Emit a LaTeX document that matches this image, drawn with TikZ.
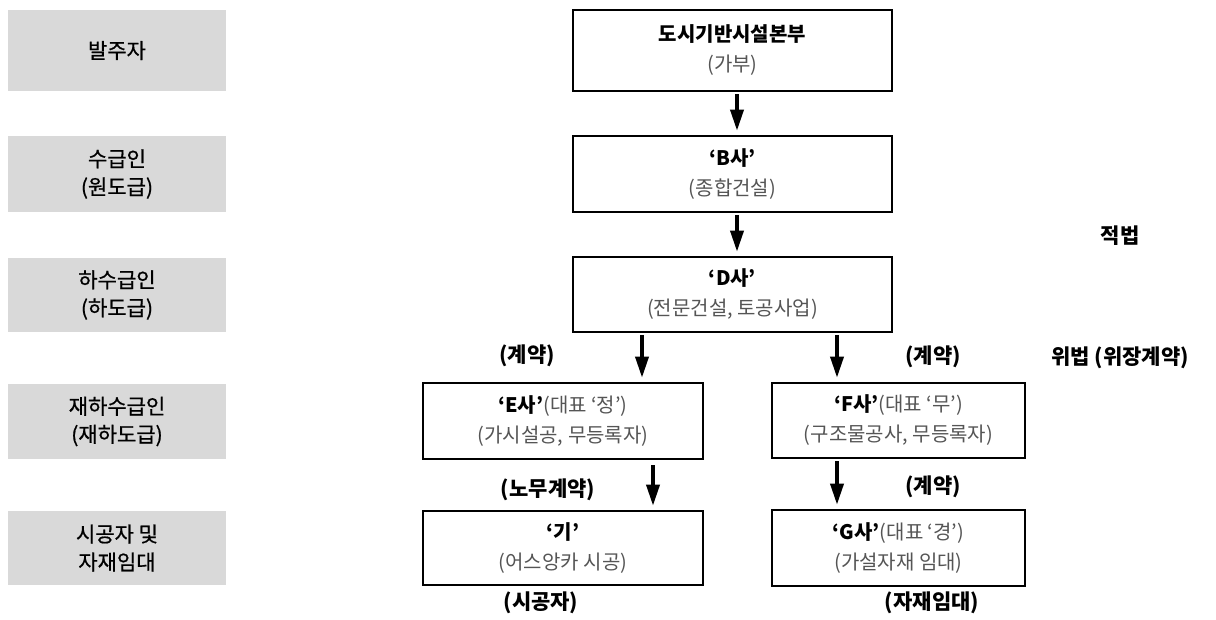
\documentclass[tikz,border=0pt]{standalone}
\usepackage{fontspec}
\setmainfont{Noto Sans CJK KR}
\newfontfamily\rolefont{Noto Sans CJK KR}[FakeBold=0.8]
\usetikzlibrary{arrows.meta}
\definecolor{boxgray}{HTML}{D9D9D9}
\definecolor{subgray}{HTML}{555555}
\begin{document}
\begin{tikzpicture}[x=1pt,y=-1pt,
  role/.style={fill=boxgray, draw=none, minimum width=218pt, align=center, inner sep=0pt, font=\rolefont\fontsize{21}{28}\selectfont},
  org/.style={draw=black, line width=2.6pt, fill=white, align=center, inner sep=0pt, font=\fontsize{20}{30}\selectfont},
  arr/.style={line width=3.5pt, -{Triangle[length=21pt,width=13pt]}, shorten <=2pt, shorten >=4pt},
  lbl/.style={font=\fontsize{21}{24}\selectfont\bfseries, inner sep=0pt}]
\useasboundingbox (0,0) rectangle (1216,620);
% left role boxes
\node[role, minimum height=81pt] (r1) at (117,50.5) {발주자};
\node[role, minimum height=76pt] (r2) at (117,174) {수급인\\(원도급)};
\node[role, minimum height=74pt] (r3) at (117,295) {하수급인\\(하도급)};
\node[role, minimum height=75pt] (r4) at (117,421.5) {재하수급인\\(재하도급)};
\node[role, minimum height=74pt] (r5) at (117,548) {시공자 및\\자재임대};
% organisation boxes
\node[org, minimum width=319pt, minimum height=81pt] (A) at (732.5,50.5) {\textbf{도시기반시설본부}\\{\color{subgray}(가부)}};
\node[org, minimum width=319pt, minimum height=76pt] (B) at (732.5,174) {\textbf{‘B사’}\\{\color{subgray}(종합건설)}};
\node[org, minimum width=319pt, minimum height=75pt] (D) at (732.5,294.5) {\textbf{‘D사’}\\{\color{subgray}(전문건설, 토공사업)}};
\node[org, minimum width=280pt, minimum height=76pt] (E) at (563,421) {\textbf{‘E사’}{\color{subgray}(대표 ‘정’)}\\{\color{subgray}(가시설공, 무등록자)}};
\node[org, minimum width=253pt, minimum height=75pt] (F) at (898.5,420.5) {\textbf{‘F사’}{\color{subgray}(대표 ‘무’)}\\{\color{subgray}(구조물공사, 무등록자)}};
\node[org, minimum width=280pt, minimum height=74pt] (K) at (563,548) {\textbf{‘기’}\\{\color{subgray}(어스앙카 시공)}};
\node[org, minimum width=253pt, minimum height=76pt] (G) at (898.5,548) {\textbf{‘G사’}{\color{subgray}(대표 ‘경’)}\\{\color{subgray}(가설자재 임대)}};
% arrow columns
\coordinate (c0) at (737,0);
\coordinate (c1) at (642,0);
\coordinate (c2) at (837,0);
\coordinate (c3) at (653,0);
\draw[arr] (A.south -| c0) -- (B.north -| c0);
\draw[arr] (B.south -| c0) -- (D.north -| c0);
\draw[arr] (D.south -| c1) -- (E.north -| c1);
\draw[arr] (D.south -| c2) -- (F.north -| c2);
\draw[arr, shorten <=5pt] (E.south -| c3) -- (K.north -| c3);
\draw[arr, shorten <=2pt] (F.south -| c2) -- (G.north -| c2);
% labels
\node[lbl] (l1) at (1120,236) {적법};
\node[lbl] (l2) at (1120,358) {위법 (위장계약)};
\node[lbl] (l3) at (527,356) {(계약)};
\node[lbl] (l4) at (933,357) {(계약)};
\node[lbl] (l5) at (548,490) {(노무계약)};
\node[lbl] (l6) at (933,487) {(계약)};
\node[lbl] (l7) at (541,603) {(시공자)};
\node[lbl] (l8) at (932,603) {(자재임대)};
\end{tikzpicture}
\end{document}
